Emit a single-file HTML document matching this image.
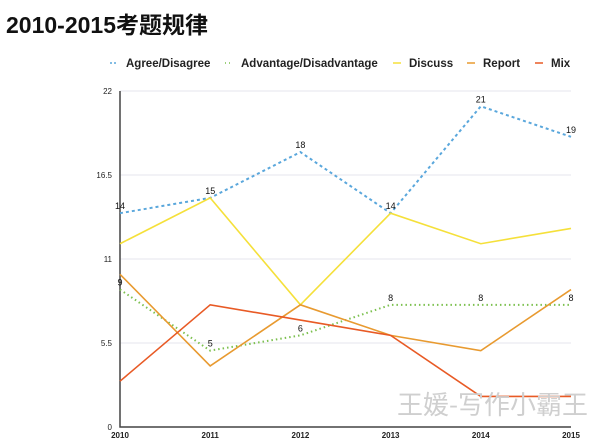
<!DOCTYPE html>
<html><head><meta charset="utf-8"><style>
body{margin:0;background:#fff;width:600px;height:445px;overflow:hidden;font-family:"Liberation Sans","Noto Sans CJK SC",sans-serif;}
#title{position:absolute;left:6px;top:6px;font-size:23px;font-weight:bold;color:#111;}
svg{position:absolute;left:0;top:0}
</style></head><body>
<div id="title">2010-2015考题规律</div>
<svg id="c" width="600" height="445"></svg>
<script>
const years=['2010','2011','2012','2013','2014','2015'];
const agree=[14,15,18,14,21,19];
const advantage=[9,5,6,8,8,8];
const discuss=[12,15,8,14,12,13];
const report=[10,4,8,6,5,9];
const mix=[3,8,7,6,2,2];
const yTicks=[0,5.5,11,16.5,22];
const names=['Agree/Disagree','Advantage/Disadvantage','Discuss','Report','Mix'];
const NS='http://www.w3.org/2000/svg';
const svg=document.getElementById('c');
const x0=120,x1=571,y0=427,y1=91;
const xs=i=>x0+(x1-x0)*i/(years.length-1);
const ys=v=>y0-(y0-y1)*v/22;
function mk(t,a,p){const e=document.createElementNS(NS,t);for(const k in a)e.setAttribute(k,a[k]);(p||svg).appendChild(e);return e;}
yTicks.forEach(v=>{
 if(v>0){const g=mk('line',{x1:x0,x2:x1,y1:ys(v),y2:ys(v),stroke:'#e6e6ec','stroke-width':1});
 
 }
 const t=mk('text',{x:x0-8,y:ys(v)+3,'font-size':8,'text-anchor':'end',fill:'#222'});t.textContent=v;
 
 
});
years.forEach((y,i)=>{const t=mk('text',{x:xs(i),y:438,'font-size':8,'font-weight':'bold','text-anchor':'middle',fill:'#222'});t.textContent=y;
 
 });
const ax=mk('path',{d:`M${x0},${y1} V${y0} H${x1}`,fill:'none',stroke:'#444','stroke-width':1.5});


const series=[
 {d:agree,c:'#5aa7dc',dash:'3,3',w:2,lab:true,n:'series-agree'},
 {d:advantage,c:'#7cc04f',dash:'1.5,3',w:2,lab:true,n:'series-advantage'},
 {d:discuss,c:'#f5e03a',dash:'',w:1.6,n:'series-discuss'},
 {d:report,c:'#e89a30',dash:'',w:1.6,n:'series-report'},
 {d:mix,c:'#e85a25',dash:'',w:1.6,n:'series-mix'}];
series.forEach(s=>{
 const p=mk('polyline',{points:s.d.map((v,i)=>xs(i)+','+ys(v)).join(' '),fill:'none',stroke:s.c,'stroke-width':s.w,'stroke-dasharray':s.dash});
 
 
 if(s.lab)s.d.forEach((v,i)=>{const t=mk('text',{x:xs(i),y:ys(v)-4,'font-size':9,'text-anchor':'middle',fill:'#111'});t.textContent=v;
 
 });
});
const lx=[126,241,409,483,551];
series.forEach((s,i)=>{
 const l=mk('line',{x1:lx[i]-16,x2:lx[i]-8,y1:63,y2:63,stroke:s.c,'stroke-width':1.5,'stroke-dasharray':s.dash?(i==0?'2,2':'1,3'):''});
 
 
 const t=mk('text',{x:lx[i],y:67,'font-size':11.5,'font-weight':'bold',fill:'#222'});t.textContent=names[i];
 
 
});
const w=mk('text',{x:397,y:414,'font-size':26,fill:'#cfcfcf','font-family':'"Noto Sans CJK SC",sans-serif'});w.textContent='王媛-写作小霸王';


</script>
</body></html>
